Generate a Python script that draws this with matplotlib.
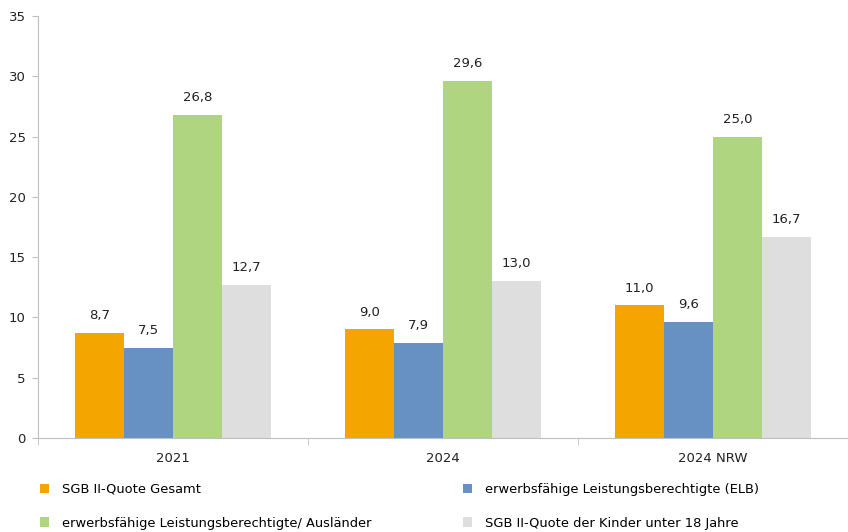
import matplotlib
matplotlib.use("Agg")
import matplotlib.pyplot as plt
import numpy as np

categories = ["2021", "2024", "2024 NRW"]
series_names = [
    "SGB II-Quote Gesamt",
    "erwerbsfähige Leistungsberechtigte (ELB)",
    "erwerbsfähige Leistungsberechtigte/ Ausländer",
    "SGB II-Quote der Kinder unter 18 Jahre",
]
quote_gesamt = [8.7, 9.0, 11.0]
elb = [7.5, 7.9, 9.6]
elb_auslaender = [26.8, 29.6, 25.0]
kinder_u18 = [12.7, 13.0, 16.7]
colors = ["#F5A500", "#6891C3", "#B0D580", "#DEDEDE"]

plt.rcParams['font.family'] = ['DejaVu Sans']
fig = plt.figure(figsize=(8.48, 5.32), dpi=100)
ax = fig.add_axes([38 / 848, (532 - 438) / 532, (848 - 38) / 848, (438 - 16) / 532])

x = np.arange(len(categories))
w = 0.181
all_series = [quote_gesamt, elb, elb_auslaender, kinder_u18]
handles = []
for i, (vals, name, c) in enumerate(zip(all_series, series_names, colors)):
    pos = x + (i - 1.5) * w
    bars = ax.bar(pos, vals, w, color=c, label=name)
    handles.append(bars)
    for b, v in zip(bars, vals):
        ax.text(b.get_x() + b.get_width() / 2, v + 0.9, f"{v:.1f}".replace(".", ","),
                ha="center", va="bottom", fontsize=9.5, color="#222222")

ax.set_xlim(-0.5, 2.5)
ax.set_ylim(0, 35)
ax.set_yticks(range(0, 36, 5))
ax.set_xticks(x)
ax.set_xticklabels(categories)
ax.set_xticks([-0.5, 0.5, 1.5, 2.5], minor=True)
ax.tick_params(axis="x", which="major", length=0, pad=10, labelsize=9.5, labelcolor="#222222")
ax.tick_params(axis="x", which="minor", length=5, color="#BFBFBF")
ax.tick_params(axis="y", length=4, color="#BFBFBF", labelsize=9.5, labelcolor="#222222", pad=5)
for s in ["top", "right"]:
    ax.spines[s].set_visible(False)
ax.spines["left"].set_color("#BFBFBF")
ax.spines["bottom"].set_color("#BFBFBF")

order = [0, 2, 1, 3]
ax.legend([handles[k] for k in order], [series_names[k] for k in order],
          loc="upper left", bbox_to_anchor=(-0.012, -0.078), ncol=2, frameon=False,
          fontsize=9.4, handlelength=0.7, handleheight=0.7, handletextpad=1.0,
          columnspacing=7.0, labelspacing=1.6)

fig.savefig("out.png", dpi=100)
